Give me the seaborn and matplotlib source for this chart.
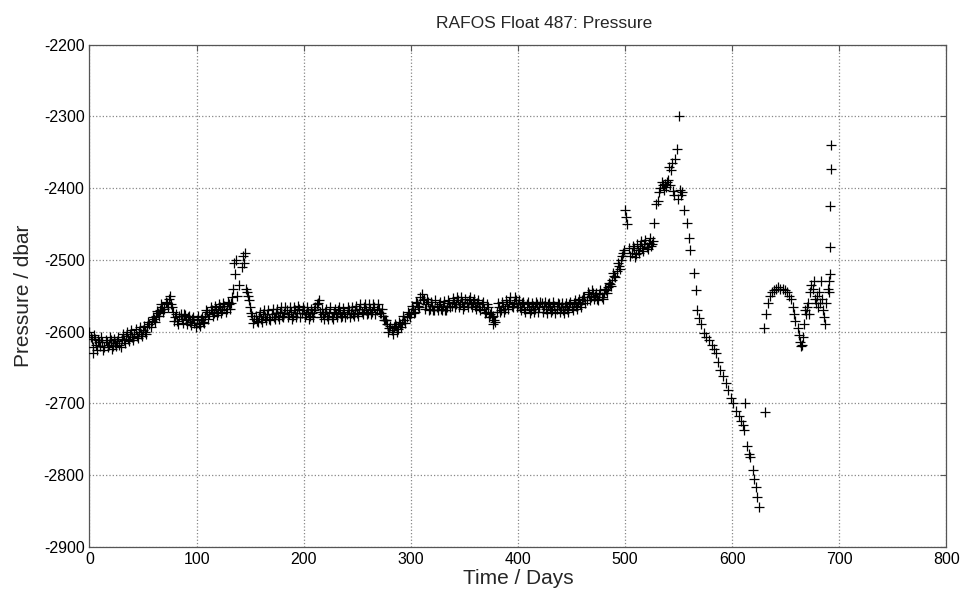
import numpy as np
import pandas as pd
import seaborn as sns
import matplotlib.pyplot as plt

# time (days) and pressure (dbar), main track
days = [
    0, 2, 3, 4, 6, 8, 10, 12, 14, 16, 18, 20, 22, 24, 26, 28, 30, 32, 34, 36, 38, 40,
    42, 44, 46, 48, 50, 52, 54, 56, 58, 60, 62, 64, 66, 68, 70, 72, 74, 76, 78, 80,
    82, 84, 86, 88, 90, 92, 94, 96, 98, 100, 102, 104, 106, 108, 110, 112, 114, 116,
    118, 120, 122, 124, 126, 128, 130, 132, 134, 135, 136, 137, 138, 140, 142, 143,
    144, 145, 146, 147, 148, 150, 152, 154, 156, 158, 160, 162, 164, 166, 168, 170,
    172, 174, 176, 178, 180, 182, 184, 186, 188, 190, 192, 194, 196, 198, 200, 202,
    204, 206, 208, 210, 212, 214, 215, 216, 218, 220, 222, 224, 226, 228, 230, 232,
    234, 236, 238, 240, 242, 244, 246, 248, 250, 252, 254, 256, 258, 260, 262, 264,
    266, 268, 270, 272, 274, 276, 278, 280, 282, 284, 286, 288, 290, 292, 294, 296,
    298, 300, 302, 304, 306, 308, 310, 312, 314, 316, 318, 320, 322, 324, 326, 328,
    330, 332, 334, 336, 338, 340, 342, 344, 346, 348, 350, 352, 354, 356, 358, 360,
    362, 364, 366, 368, 370, 372, 374, 376, 377, 378, 380, 382, 384, 386, 388, 390,
    392, 394, 396, 398, 400, 402, 404, 406, 408, 410, 412, 414, 416, 418, 420, 422,
    424, 426, 428, 430, 432, 434, 436, 438, 440, 442, 444, 446, 448, 450, 452, 454,
    456, 458, 460, 462, 464, 466, 468, 470, 472, 474, 476, 478, 480, 482, 484, 486,
    488, 490, 492, 494, 496, 498, 499, 500, 501, 502, 504, 506, 508, 510, 512, 514,
    516, 518, 520, 522, 524, 526, 527, 529, 531, 533, 535, 536, 537, 538, 539, 541,
    543, 544, 545, 546, 547, 548, 549, 550, 551, 552, 553, 555, 558, 560, 561, 564,
    566, 567, 569, 571, 574, 576, 578, 581, 583, 585, 587, 589, 591, 594, 596, 599,
    601, 604, 606, 608, 610, 611, 612, 614, 616, 617, 619, 620, 622, 623, 625,
    630, 631, 632, 633, 635, 637, 639, 641, 643, 645, 647, 649, 651, 653, 655, 657,
    658, 659, 661, 662, 663, 664, 665, 666, 667, 668, 669, 670, 671, 672, 673, 674,
    675, 676, 677, 678, 679, 680, 681, 682, 683, 684, 685, 686, 687, 688, 689, 690,
    690.5, 691, 691.5, 691.5, 692, 692.5,
]
pressure = [
    -2600, -2610, -2630, -2605, -2618, -2612, -2620, -2615, -2622, -2614, -2618, -2612, -2620, -2616, -2613, -2618, -2610, -2612, -2606, -2610, -2604, -2608,
    -2603, -2606, -2600, -2604, -2598, -2600, -2594, -2590, -2585, -2582, -2578, -2574, -2570, -2566, -2568, -2560, -2555, -2562, -2572, -2580,
    -2585, -2578, -2582, -2576, -2584, -2580, -2586, -2582, -2588, -2584, -2590, -2582, -2586, -2578, -2572, -2576, -2570, -2574,
    -2568, -2572, -2566, -2570, -2564, -2568, -2562, -2560, -2540, -2505, -2520, -2500, -2550, -2535, -2510, -2495,
    -2505, -2490, -2540, -2545, -2550, -2565, -2578, -2582, -2585, -2578, -2582, -2576, -2580, -2575, -2582, -2576,
    -2580, -2574, -2578, -2572, -2578, -2574, -2570, -2576, -2572, -2578, -2570, -2574, -2568, -2574, -2570, -2576,
    -2572, -2578, -2574, -2570, -2562, -2556, -2572, -2580, -2576, -2572, -2578, -2574, -2580, -2572, -2576, -2570,
    -2574, -2578, -2572, -2576, -2570, -2574, -2576, -2570, -2574, -2568, -2572, -2566, -2570, -2574, -2568, -2572,
    -2566, -2570, -2568, -2574, -2578, -2584, -2590, -2595, -2598, -2594, -2592, -2596, -2590, -2588, -2584, -2580,
    -2576, -2574, -2568, -2572, -2560, -2565, -2548, -2555, -2562, -2558, -2568, -2564, -2570, -2566, -2562, -2568,
    -2564, -2570, -2566, -2560, -2564, -2558, -2562, -2556, -2562, -2558, -2564, -2560, -2556, -2562, -2558, -2564,
    -2560, -2566, -2562, -2568, -2572, -2566, -2576, -2580, -2590, -2584, -2572, -2566, -2570, -2564, -2568, -2562,
    -2558, -2564, -2560, -2556, -2562, -2566, -2560, -2568, -2562, -2566, -2570, -2564, -2568, -2562, -2566, -2560,
    -2564, -2568, -2562, -2566, -2570, -2564, -2568, -2562, -2566, -2570, -2564, -2568, -2562, -2566, -2560, -2564,
    -2558, -2562, -2556, -2552, -2556, -2548, -2552, -2546, -2550, -2554, -2548, -2552, -2546, -2542, -2538, -2534,
    -2528, -2522, -2516, -2508, -2500, -2490, -2486, -2430, -2440, -2450, -2484, -2490, -2484, -2492, -2486, -2480,
    -2484, -2478, -2482, -2476, -2480, -2474, -2449, -2422, -2418, -2400, -2396, -2402, -2394, -2398, -2392, -2370,
    -2375, -2365, -2404, -2410, -2360, -2345, -2415, -2300, -2402, -2410, -2405, -2430, -2449, -2470, -2486, -2518,
    -2542, -2570, -2581, -2590, -2602, -2608, -2612, -2618, -2624, -2630, -2642, -2654, -2662, -2672, -2682, -2692,
    -2700, -2710, -2718, -2724, -2730, -2737, -2700, -2760, -2770, -2775, -2793, -2805, -2816, -2830, -2845,
    -2595, -2712, -2575, -2560, -2550, -2545, -2542, -2540, -2538, -2540, -2540, -2542, -2545, -2550, -2555, -2565,
    -2575, -2585, -2595, -2605, -2615, -2620, -2618, -2608, -2590, -2570, -2575, -2565, -2560, -2575, -2545, -2535,
    -2540, -2530, -2555, -2560, -2550, -2565, -2545, -2560, -2530, -2555, -2570, -2580, -2590, -2560, -2540, -2530,
    -2545, -2520, -2482, -2425, -2373, -2340,
]

# second set of fixes filling the dense band (odd days)
days2 = [
    1, 3, 5, 7, 9, 11, 13, 15, 17, 19, 21, 23, 25, 27, 29, 31, 33, 35, 37, 39, 41, 43,
    45, 47, 49, 51, 53, 55, 57, 59, 61, 63, 65, 67, 69, 71, 73, 75, 77, 79, 81, 83,
    85, 87, 89, 91, 93, 95, 97, 99, 101, 103, 105, 107, 109, 111, 113, 115, 117, 119,
    121, 123, 125, 127, 129, 131, 133, 149, 151, 153, 155, 157, 159, 161, 163, 165,
    167, 169, 171, 173, 175, 177, 179, 181, 183, 185, 187, 189, 191, 193, 195, 197,
    199, 201, 203, 205, 207, 209, 211, 213, 217, 219, 221, 223, 225, 227, 229, 231,
    233, 235, 237, 239, 241, 243, 245, 247, 249, 251, 253, 255, 257, 259, 261, 263,
    265, 267, 269, 271, 273, 275, 277, 279, 281, 283, 285, 287, 289, 291, 293, 295,
    297, 299, 301, 303, 305, 307, 309, 311, 313, 315, 317, 319, 321, 323, 325, 327,
    329, 331, 333, 335, 337, 339, 341, 343, 345, 347, 349, 351, 353, 355, 357, 359,
    361, 363, 365, 367, 369, 371, 373, 375, 377, 379, 381, 383, 385, 387, 389, 391,
    393, 395, 397, 399, 401, 403, 405, 407, 409, 411, 413, 415, 417, 419, 421, 423,
    425, 427, 429, 431, 433, 435, 437, 439, 441, 443, 445, 447, 449, 451, 453, 455,
    457, 459, 461, 463, 465, 467, 469, 471, 473, 475, 477, 479, 481, 483, 485, 487,
    489, 491, 493, 495, 497, 505, 507, 509, 511, 513, 515, 517, 519, 521, 523, 525,
    532, 534, 540, 542,
]
pressure2 = [
    -2608, -2622, -2610, -2625, -2614, -2608, -2626, -2611, -2622, -2607, -2624, -2610, -2620, -2608, -2622, -2604, -2616, -2601, -2613, -2598, -2611, -2597,
    -2609, -2594, -2606, -2592, -2603, -2586, -2593, -2580, -2586, -2571, -2578, -2562, -2572, -2558, -2566, -2550, -2566, -2585, -2576, -2590,
    -2575, -2588, -2577, -2590, -2578, -2591, -2580, -2594, -2578, -2592, -2580, -2588, -2570, -2582, -2566, -2578, -2564, -2577,
    -2561, -2574, -2560, -2572, -2558, -2568, -2552, -2556, -2574, -2588, -2578, -2586, -2572, -2586, -2570, -2584,
    -2570, -2584, -2569, -2582, -2568, -2582, -2566, -2580, -2566, -2580, -2566, -2582, -2566, -2580, -2564, -2580,
    -2565, -2580, -2566, -2582, -2568, -2580, -2566, -2560, -2568, -2582, -2568, -2582, -2566, -2582, -2568, -2580,
    -2566, -2580, -2567, -2580, -2566, -2580, -2566, -2578, -2564, -2578, -2562, -2576, -2562, -2576, -2562, -2576,
    -2562, -2576, -2562, -2574, -2568, -2584, -2584, -2600, -2592, -2603, -2590, -2600, -2586, -2594, -2578, -2588,
    -2572, -2580, -2564, -2574, -2558, -2564, -2552, -2556, -2568, -2555, -2570, -2558, -2570, -2556, -2570, -2558,
    -2570, -2557, -2570, -2556, -2566, -2553, -2566, -2552, -2566, -2552, -2568, -2554, -2566, -2552, -2566, -2554,
    -2568, -2556, -2570, -2558, -2574, -2562, -2580, -2572, -2578, -2586, -2560, -2572, -2558, -2572, -2556, -2568,
    -2552, -2566, -2552, -2566, -2556, -2570, -2558, -2572, -2558, -2574, -2560, -2572, -2558, -2572, -2558, -2572,
    -2558, -2574, -2560, -2572, -2558, -2574, -2560, -2572, -2560, -2574, -2560, -2572, -2558, -2570, -2556, -2568,
    -2554, -2566, -2552, -2560, -2545, -2556, -2542, -2555, -2546, -2556, -2542, -2554, -2540, -2546, -2532, -2536,
    -2518, -2524, -2504, -2512, -2494, -2494, -2480, -2496, -2478, -2490, -2474, -2488, -2472, -2485, -2470, -2478,
    -2405, -2392, -2388, -2396,
]

df = pd.DataFrame({'Time': days + days2, 'Pressure': pressure + pressure2})

sns.set_style('white')
plt.rcParams['font.family'] = ['Liberation Sans', 'DejaVu Sans']
plt.rcParams['axes.unicode_minus'] = False

fig = plt.figure(figsize=(9.64, 6.02), dpi=100)
ax = fig.add_axes([0.0928, 0.0917, 0.889, 0.834])

sns.scatterplot(data=df, x='Time', y='Pressure', marker='+', color='black',
                s=60, linewidth=0.9, ax=ax, zorder=3)

ax.set_xlim(0, 800)
ax.set_ylim(-2900, -2200)
ax.set_xticks(range(0, 801, 100))
ax.set_yticks(range(-2900, -2199, 100))
ax.grid(True, linestyle=':', color='#888888', linewidth=0.9)
ax.tick_params(direction='in', length=4, labelsize=11.5, top=True, right=True,
               colors='#555555', labelcolor='black')
for s in ax.spines.values():
    s.set_color('#555555')
    s.set_linewidth(0.9)

ax.set_title('RAFOS Float 487: Pressure', fontsize=12.5, pad=12, x=0.53)
ax.set_xlabel('Time / Days', fontsize=15, labelpad=2)
ax.set_ylabel('Pressure / dbar', fontsize=15, labelpad=8)

fig.savefig('out.png', dpi=100)
